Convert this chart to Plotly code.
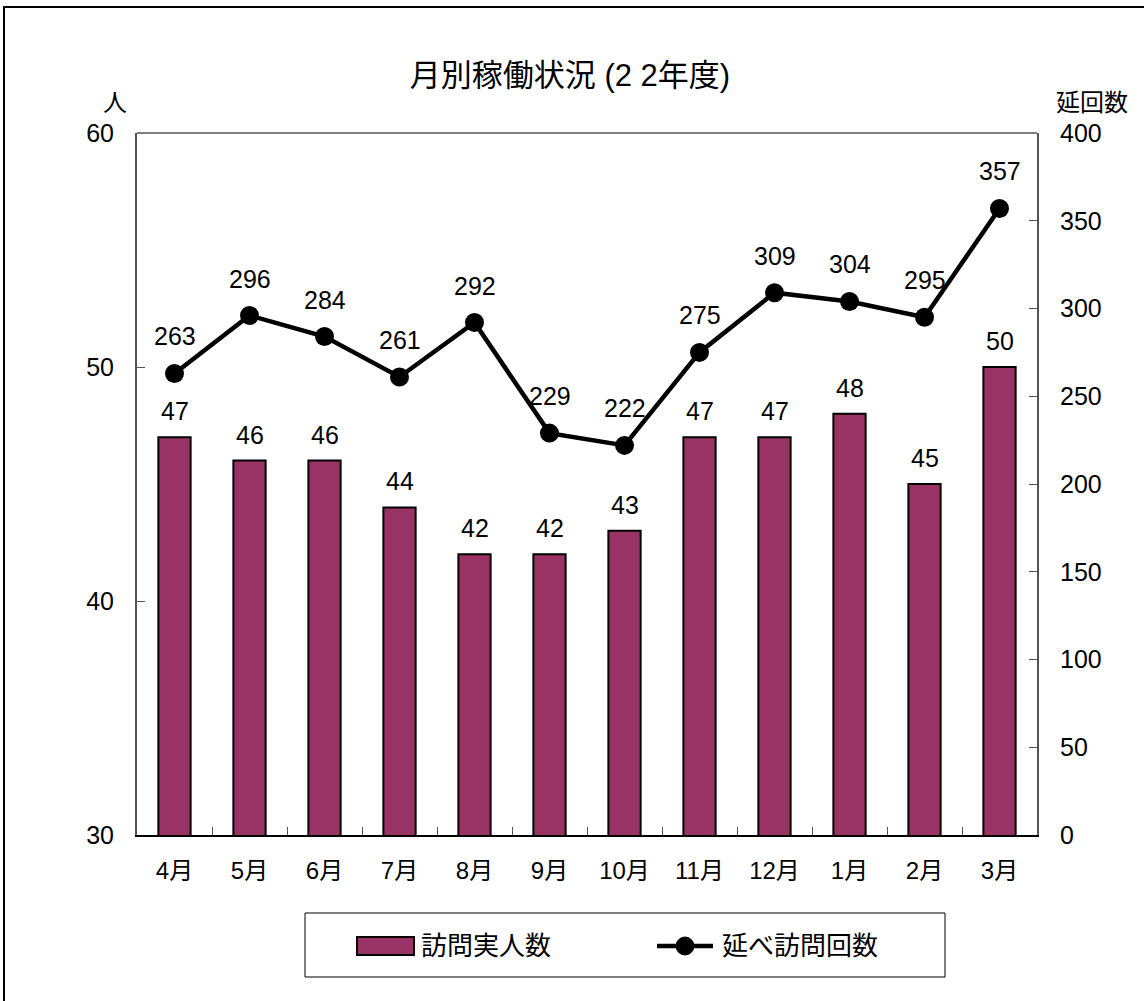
import plotly.graph_objects as go

months = ["4月", "5月", "6月", "7月", "8月", "9月", "10月", "11月", "12月", "1月", "2月", "3月"]
visitors = [47, 46, 46, 44, 42, 42, 43, 47, 47, 48, 45, 50]
visits = [263, 296, 284, 261, 292, 229, 222, 275, 309, 304, 295, 357]

bar_name = "訪問実人数"
line_name = "延べ訪問回数"
BAR_COLOR = "#993366"

FONT = "Liberation Sans, Arial, Noto Sans CJK JP, sans-serif"
W, H = 1144, 1001
L, R, T, B = 137, 107, 133, 166
PW, PH = W - L - R, H - T - B


def px(x):
    return (x - L) / PW


def py(y):
    return (H - B - y) / PH


fig = go.Figure()
fig.add_trace(go.Bar(
    x=months, y=visitors, name=bar_name,
    marker=dict(color=BAR_COLOR, line=dict(color="black", width=2)),
    width=0.43, showlegend=False,
))
fig.add_trace(go.Scatter(
    x=months, y=visits, name=line_name, yaxis="y2",
    mode="lines+markers",
    line=dict(color="black", width=4.5),
    marker=dict(color="black", size=19),
    showlegend=False,
))

annotations = []
for m, v in zip(months, visitors):
    annotations.append(dict(x=m, y=v, xref="x", yref="y", text=str(v), showarrow=False,
                            yanchor="bottom", yshift=10, font=dict(size=25, color="black", family=FONT)))
for m, v in zip(months, visits):
    annotations.append(dict(x=m, y=v, xref="x", yref="y2", text=str(v), showarrow=False,
                            yanchor="bottom", yshift=21, font=dict(size=25, color="black", family=FONT)))
annotations.append(dict(x=px(115), y=py(102), xref="paper", yref="paper", text="人",
                        xanchor="center", yanchor="middle",
                        showarrow=False, font=dict(size=24, color="black", family=FONT)))
annotations.append(dict(x=px(1092), y=py(102), xref="paper", yref="paper", text="延回数",
                        xanchor="center", yanchor="middle",
                        showarrow=False, font=dict(size=24, color="black", family=FONT)))
# legend texts
annotations.append(dict(x=px(419), y=py(946), xref="paper", yref="paper", text=bar_name,
                        xanchor="left", yanchor="middle",
                        showarrow=False, font=dict(size=26, color="black", family=FONT)))
annotations.append(dict(x=px(720), y=py(946), xref="paper", yref="paper", text=line_name,
                        xanchor="left", yanchor="middle",
                        showarrow=False, font=dict(size=26, color="black", family=FONT)))

shapes = [
    dict(type="line", xref="paper", yref="paper", x0=0, x1=1, y0=1, y1=1,
         line=dict(color="#808080", width=2)),
    dict(type="rect", xref="paper", yref="paper",
         x0=px(4), x1=px(1150), y0=py(1010), y1=py(7),
         line=dict(color="black", width=2)),
    # legend box
    dict(type="rect", xref="paper", yref="paper", x0=px(305), x1=px(945), y0=py(977), y1=py(913),
         line=dict(color="black", width=1), fillcolor="white", layer="below"),
    dict(type="rect", xref="paper", yref="paper", x0=px(357), x1=px(414), y0=py(955), y1=py(937),
         line=dict(color="black", width=2), fillcolor=BAR_COLOR),
    dict(type="line", xref="paper", yref="paper", x0=px(657), x1=px(713), y0=py(946), y1=py(946),
         line=dict(color="black", width=4.5)),
    dict(type="circle", xref="paper", yref="paper", x0=px(676), x1=px(694), y0=py(955), y1=py(937),
         line=dict(color="black", width=1), fillcolor="black"),
]

fig.update_layout(
    width=W, height=H,
    margin=dict(l=L, r=R, t=T, b=B, autoexpand=False),
    paper_bgcolor="white", plot_bgcolor="white",
    font=dict(family=FONT, size=24, color="black"),
    title=dict(text="月別稼働状況 (2 2年度)", x=570 / W, xanchor="center",
               y=1 - 75 / H, yanchor="middle", font=dict(size=31, family=FONT, color="black")),
    showlegend=False,
    xaxis=dict(range=[-0.5, len(months) - 0.5], showline=True, linecolor="black", linewidth=2, mirror=False,
               ticks="inside", ticklen=8, tickcolor="#555", tickson="boundaries",
               tickfont=dict(size=24), showgrid=False, ticklabelstandoff=13),
    yaxis=dict(range=[30, 60], dtick=10, showline=True, linecolor="#555", linewidth=2,
               ticks="inside", ticklen=8, tickcolor="#555", showgrid=False, zeroline=False,
               tickfont=dict(size=25), ticklabelstandoff=16),
    yaxis2=dict(range=[0, 400], dtick=50, overlaying="y", side="right", showline=True,
                linecolor="#555", linewidth=2, ticks="inside", ticklen=8, tickcolor="#555",
                showgrid=False, zeroline=False, tickfont=dict(size=25), ticklabelstandoff=16),
    annotations=annotations,
    shapes=shapes,
)

fig.write_html("out.html", config={"displayModeBar": False},
               post_script="document.body.style.margin='0';document.body.style.overflow='hidden';")
